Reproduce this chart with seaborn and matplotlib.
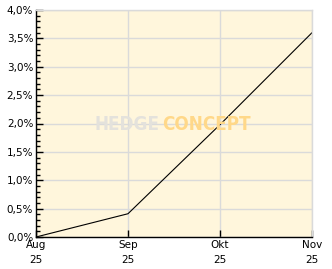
import matplotlib
matplotlib.use("Agg")
import matplotlib.pyplot as plt
import seaborn as sns
import pandas as pd
import numpy as np
from matplotlib.ticker import MultipleLocator, FuncFormatter

months = ["Aug\n25", "Sep\n25", "Okt\n25", "Nov\n25"]
values = [0.0, 0.41, 1.98, 3.60]

df = pd.DataFrame({"x": np.arange(len(months)), "y": values})

sns.set_style("white")
plt.rcParams['font.family'] = ['DejaVu Sans']

fig = plt.figure(figsize=(3.32, 2.69), dpi=100)
ax = fig.add_axes([36/332, 1-237/269, (312-36)/332, (237-10)/269])
ax.set_facecolor("#FFF6DC")

sns.lineplot(data=df, x="x", y="y", ax=ax, color="black", linewidth=0.8)

ax.set_xlim(0, len(months)-1)
ax.set_ylim(0, 4.0)
ax.set_xticks(range(len(months)))
ax.set_xticklabels(months, fontsize=7.5, linespacing=1.6, color="black")
ax.yaxis.set_major_locator(MultipleLocator(0.5))
ax.yaxis.set_minor_locator(MultipleLocator(0.1))
ax.yaxis.set_major_formatter(FuncFormatter(lambda v, p: f"{v:.1f}%".replace(".", ",")))
ax.tick_params(axis="y", which="major", direction="in", length=5, width=1, labelsize=7.5,
               pad=2, left=True, labelcolor="black", color="black")
ax.tick_params(axis="y", which="minor", direction="in", length=3, width=1, left=True, color="black")
ax.tick_params(axis="x", which="major", direction="in", length=5, width=1, pad=2,
               bottom=True, color="black")
ax.set_xlabel("")
ax.set_ylabel("")

ax.grid(True, which="major", color="#DADADA", linewidth=1)
ax.set_axisbelow(True)

for s in ["top", "right"]:
    ax.spines[s].set_color("#DADADA")
    ax.spines[s].set_linewidth(1)
for s in ["left", "bottom"]:
    ax.spines[s].set_color("black")
    ax.spines[s].set_linewidth(1)

fig.text(159/332, 1-125/269, "HEDGE", ha="right", va="center", fontsize=13.5,
         fontweight="bold", fontstretch="condensed",
         color="#E4E2DC", zorder=0.5)
fig.text(162/332, 1-125/269, "CONCEPT", ha="left", va="center", fontsize=13.5,
         fontweight="bold", fontstretch="condensed",
         color="#FFD889", zorder=0.5)

fig.savefig("out.png", dpi=100)
